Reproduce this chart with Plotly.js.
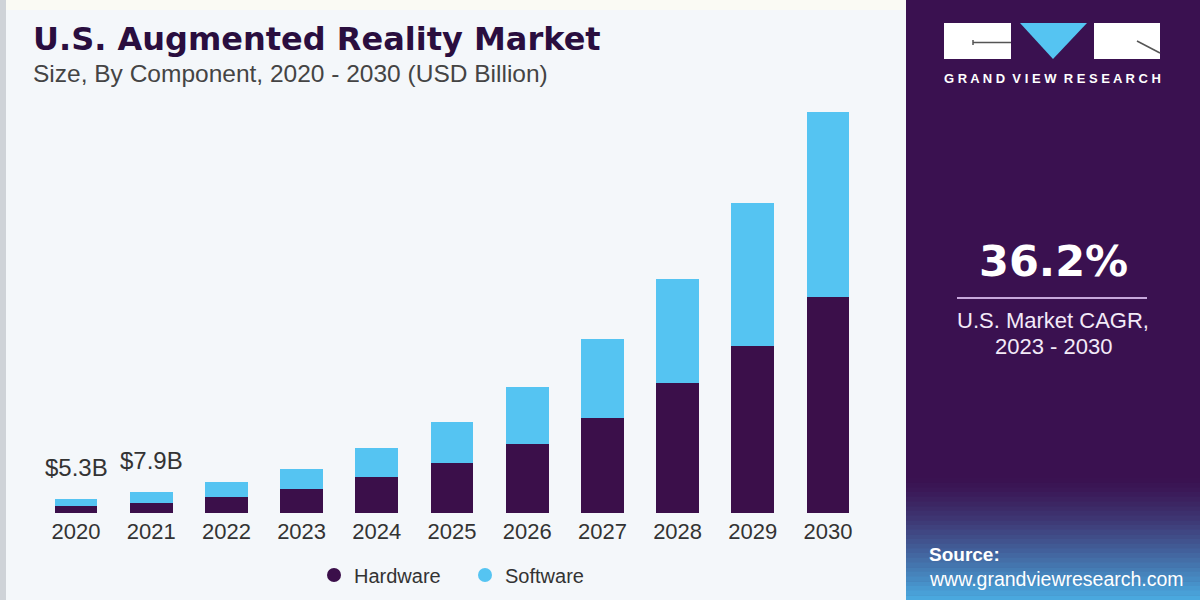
<!DOCTYPE html>
<html>
<head>
<meta charset="utf-8">
<script src="https://cdn.plot.ly/plotly-3.0.1.min.js"></script>
<style>
html,body{margin:0;padding:0;background:#f4f7fa;}
#chart{width:1200px;height:600px;}
</style>
</head>
<body>
<div id="chart"></div>
<script>
// ---- data ----
const years = ['2020','2021','2022','2023','2024','2025','2026','2027','2028','2029','2030'];
const hardware = [2.5, 3.8, 6.2, 9.2, 13.8, 18.9, 26.1, 36.2, 49.3, 63.6, 82.0];
const software = [2.8, 4.1, 5.6, 7.6, 10.9, 15.8, 21.7, 29.9, 39.6, 54.1, 70.3];
const labelYears = ['2020', '2021'];
const labelTexts = ['$5.3B', '$7.9B'];
const seriesNames = ['Hardware', 'Software'];
const colors = ['#3b0f4a', '#55c4f2'];

const BG = '#f4f7fa';
const PANEL = '#3a1150';
const FONT = 'Liberation Sans, Arial, sans-serif';
const HEAVY = 'DejaVu Sans, Liberation Sans, Arial, sans-serif';

const traces = [
  {type:'bar', name:seriesNames[0], x:years, y:hardware, marker:{color:colors[0]}, showlegend:false, hoverinfo:'x+y'},
  {type:'bar', name:seriesNames[1], x:years, y:software, marker:{color:colors[1]}, showlegend:false, hoverinfo:'x+y'},
  {type:'scatter', mode:'markers', name:seriesNames[0], x:[null], y:[null], marker:{color:colors[0], size:14, symbol:'circle'}},
  {type:'scatter', mode:'markers', name:seriesNames[1], x:[null], y:[null], marker:{color:colors[1], size:14, symbol:'circle'}}
];

const annotations = [];
labelYears.forEach((yr, i) => {
  const idx = years.indexOf(yr);
  annotations.push({x:idx, y:hardware[idx]+software[idx], xref:'x', yref:'y', text:labelTexts[i],
    showarrow:false, yanchor:'bottom', yshift:16, font:{family:FONT, size:24, color:'#333333'}});
});

// Title / subtitle
annotations.push({xref:'paper', yref:'paper', x:31/1200, y:1-39/600, xanchor:'left', yanchor:'middle',
  text:'<b>U.S. Augmented Reality Market</b>', showarrow:false,
  font:{family:HEAVY, size:32, color:'#2a0e3f'}});
annotations.push({xref:'paper', yref:'paper', x:31/1200, y:1-73/600, xanchor:'left', yanchor:'middle',
  text:'Size, By Component, 2020 - 2030 (USD Billion)', showarrow:false,
  font:{family:FONT, size:24.5, color:'#444444'}});

// Right panel texts
const pcx = 1053/1200;
annotations.push({xref:'paper', yref:'paper', x:1052/1200, y:1-78/600, xanchor:'center', yanchor:'middle',
  text:'<b>G R A N D  V I E W  R E S E A R C H</b>', showarrow:false,
  font:{family:FONT, size:13, color:'#ffffff'}});
annotations.push({xref:'paper', yref:'paper', x:pcx, y:1-261/600, xanchor:'center', yanchor:'middle',
  text:'<b>36.2%</b>', showarrow:false, font:{family:HEAVY, size:43, color:'#ffffff'}});
annotations.push({xref:'paper', yref:'paper', x:pcx, y:1-320/600, xanchor:'center', yanchor:'middle',
  text:'U.S. Market CAGR,', showarrow:false, font:{family:FONT, size:22, color:'#f3eaf8'}});
annotations.push({xref:'paper', yref:'paper', x:pcx, y:1-346/600, xanchor:'center', yanchor:'middle',
  text:'2023 - 2030', showarrow:false, font:{family:FONT, size:22, color:'#f3eaf8'}});
annotations.push({xref:'paper', yref:'paper', x:927/1200, y:1-554/600, xanchor:'left', yanchor:'middle',
  text:'<b>Source:</b>', showarrow:false, font:{family:FONT, size:19, color:'#ffffff'}});
annotations.push({xref:'paper', yref:'paper', x:927/1200, y:1-579/600, xanchor:'left', yanchor:'middle',
  text:'www.grandviewresearch.com', showarrow:false, font:{family:FONT, size:19.5, color:'#ffffff'}});

// shapes
const shapes = [];
function px(x){return x/1200;}
function py(y){return 1-y/600;}
function rect(x0,y0,x1,y1,fill){
  shapes.push({type:'rect', xref:'paper', yref:'paper', x0:px(x0), x1:px(x1), y0:py(y1), y1:py(y0),
    fillcolor:fill, line:{width:0}, layer:'below'});
}
rect(0,0,1200,10,'#fafaf4');
rect(0,0,6,600,'#cfd3d8');
rect(906,0,1200,600,PANEL);
// gradient at bottom of panel
const gStart = 478, gEnd = 600, steps = 26;
const c0 = [58,17,80], c1 = [74,172,226];
for (let i=0;i<steps;i++){
  const t = Math.pow((i+0.5)/steps, 1.3);
  const c = c0.map((v,k)=>Math.round(v+(c1[k]-v)*t));
  const ya = gStart + (gEnd-gStart)*i/steps;
  const yb = gStart + (gEnd-gStart)*(i+1)/steps + 0.5;
  rect(906, ya, 1200, yb, `rgb(${c[0]},${c[1]},${c[2]})`);
}
// logo
function lrect(x0,y0,x1,y1,fill){
  shapes.push({type:'rect', xref:'paper', yref:'paper', x0:px(x0), x1:px(x1), y0:py(y1), y1:py(y0),
    fillcolor:fill, line:{width:0}, layer:'above'});
}
lrect(944,23,1011,59,'#ffffff');
lrect(1094,23,1160,59,'#ffffff');
shapes.push({type:'path', xref:'paper', yref:'paper',
  path:`M ${px(1020)} ${py(23)} L ${px(1087)} ${py(23)} L ${px(1053)} ${py(59)} Z`,
  fillcolor:'#55c4f2', line:{width:0}, layer:'above'});
shapes.push({type:'line', xref:'paper', yref:'paper', x0:px(973), x1:px(1011), y0:py(42.5), y1:py(42.5), line:{color:'#555555', width:1.5}, layer:'above'});
shapes.push({type:'line', xref:'paper', yref:'paper', x0:px(973), x1:px(973), y0:py(40), y1:py(45), line:{color:'#555555', width:1.5}, layer:'above'});
shapes.push({type:'line', xref:'paper', yref:'paper', x0:px(1137), x1:px(1160), y0:py(41), y1:py(53), line:{color:'#555555', width:1.5}, layer:'above'});
// CAGR divider
shapes.push({type:'line', xref:'paper', yref:'paper', x0:px(957), x1:px(1147), y0:py(298), y1:py(298), line:{color:'#c7a8dc', width:2}, layer:'above'});

const layout = {
  width:1200, height:600,
  margin:{l:0, r:0, t:0, b:0},
  paper_bgcolor:BG, plot_bgcolor:'rgba(0,0,0,0)',
  barmode:'stack', bargap:0.43,
  xaxis:{domain:[38.4/1200, 865.6/1200], type:'category', range:[-0.5,10.5], showgrid:false, zeroline:false,
    showline:false, ticks:'', tickfont:{family:FONT, size:22, color:'#333333'}, ticklabelstandoff:3, fixedrange:true},
  yaxis:{domain:[(600-513)/600, (600-92)/600], range:[0,160], visible:false, showgrid:false, zeroline:false, fixedrange:true},
  showlegend:true,
  legend:{orientation:'h', traceorder:'normal', x:314/1200, xanchor:'left', y:1-575/600, yanchor:'middle',
    font:{family:FONT, size:20, color:'#333333'}, bgcolor:'rgba(0,0,0,0)',
    entrywidth:106, itemwidth:30},
  annotations:annotations,
  shapes:shapes
};

Plotly.newPlot('chart', traces, layout, {displayModeBar:false, staticPlot:true});
</script>
</body>
</html>
